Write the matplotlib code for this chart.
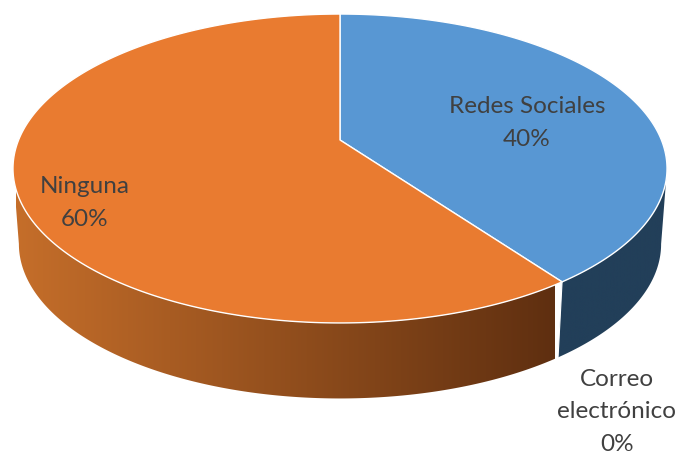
#!/usr/bin/env python3
"""3D-style pie of contact channels, drawn in pixel coordinates with a small perspective projection."""
import matplotlib
matplotlib.use("Agg")
import matplotlib.pyplot as plt
import numpy as np
from matplotlib.colors import LinearSegmentedColormap
from matplotlib.patches import Polygon

plt.rcParams["font.family"] = ["Lato", "DejaVu Sans"]

categories = ["Redes Sociales", "Correo\nelectrónico", "Ninguna"]
values = [40, 0, 60]

TOP_C = ["#5897d3", "#a5a5a5", "#e97b30"]
SIDE_C = {0: ("#223f59", "#223f59"), 2: ("#c56e2a", "#5f2f10")}
TEXT_C = "#404040"
LABEL_POS = [(527, 123), (617, 412), (85, 203)]

# projection of the unit disc
CX, K = 340.0, 0.1845
TOP = (140.0, 321.4, 149.2)     # centre y, x scale, y scale
BOTTOM = (215.5, 315.6, 149.2)


def project(theta, face):
    cy, bx, by = face
    w = 1 - K * (-np.cos(theta))
    return CX + bx * np.sin(theta) / w, cy + by * (-np.cos(theta)) / w


fig = plt.figure(figsize=(6.81, 4.55), dpi=100)
ax = fig.add_axes([0, 0, 1, 1])
ax.set_xlim(0, 681)
ax.set_ylim(455, 0)
ax.axis("off")

edges = 2 * np.pi * np.concatenate([[0], np.cumsum(values)]) / sum(values)
vis_lo, vis_hi = np.arccos(-K), 2 * np.pi - np.arccos(-K)

# side wall, front half only
for i in SIDE_C:
    lo, hi = max(edges[i], vis_lo), min(edges[i + 1], vis_hi)
    t = np.linspace(lo, hi, 200)
    xt, yt = project(t, TOP)
    xb, yb = project(t, BOTTOM)
    poly = Polygon(np.r_[np.c_[xt, yt], np.c_[xb, yb][::-1]], closed=True,
                   fc="none", ec="none")
    ax.add_patch(poly)
    cmap = LinearSegmentedColormap.from_list("side", SIDE_C[i])
    x0, x1 = (16, 555) if i == 2 else (555, 670)
    im = ax.imshow(np.linspace(0, 1, 256)[None, :], extent=(x0, x1, 410, 160),
                   cmap=cmap, aspect="auto", zorder=1)
    im.set_clip_path(poly)
ax.set_xlim(0, 681)
ax.set_ylim(455, 0)

# white seam where the slices meet on the wall
xs = [project(edges[1], TOP)[0], project(edges[1], BOTTOM)[0]]
ys = [project(edges[1], TOP)[1], project(edges[1], BOTTOM)[1]]
ax.plot(xs, ys, color="white", lw=0.8, zorder=2)

# top face
for i, col in enumerate(TOP_C):
    if values[i] == 0:
        continue
    t = np.linspace(edges[i], edges[i + 1], 300)
    x, y = project(t, TOP)
    ax.fill(np.r_[CX, x], np.r_[TOP[0], y], fc=col, ec="white", lw=1.0,
            joinstyle="round", zorder=3)

for cat, val, (lx, ly) in zip(categories, values, LABEL_POS):
    ax.text(lx, ly, f"{cat}\n{val}%", ha="center", va="center", fontsize=17.5,
            color=TEXT_C, linespacing=1.68, zorder=4)

fig.savefig("out.png", dpi=100)
